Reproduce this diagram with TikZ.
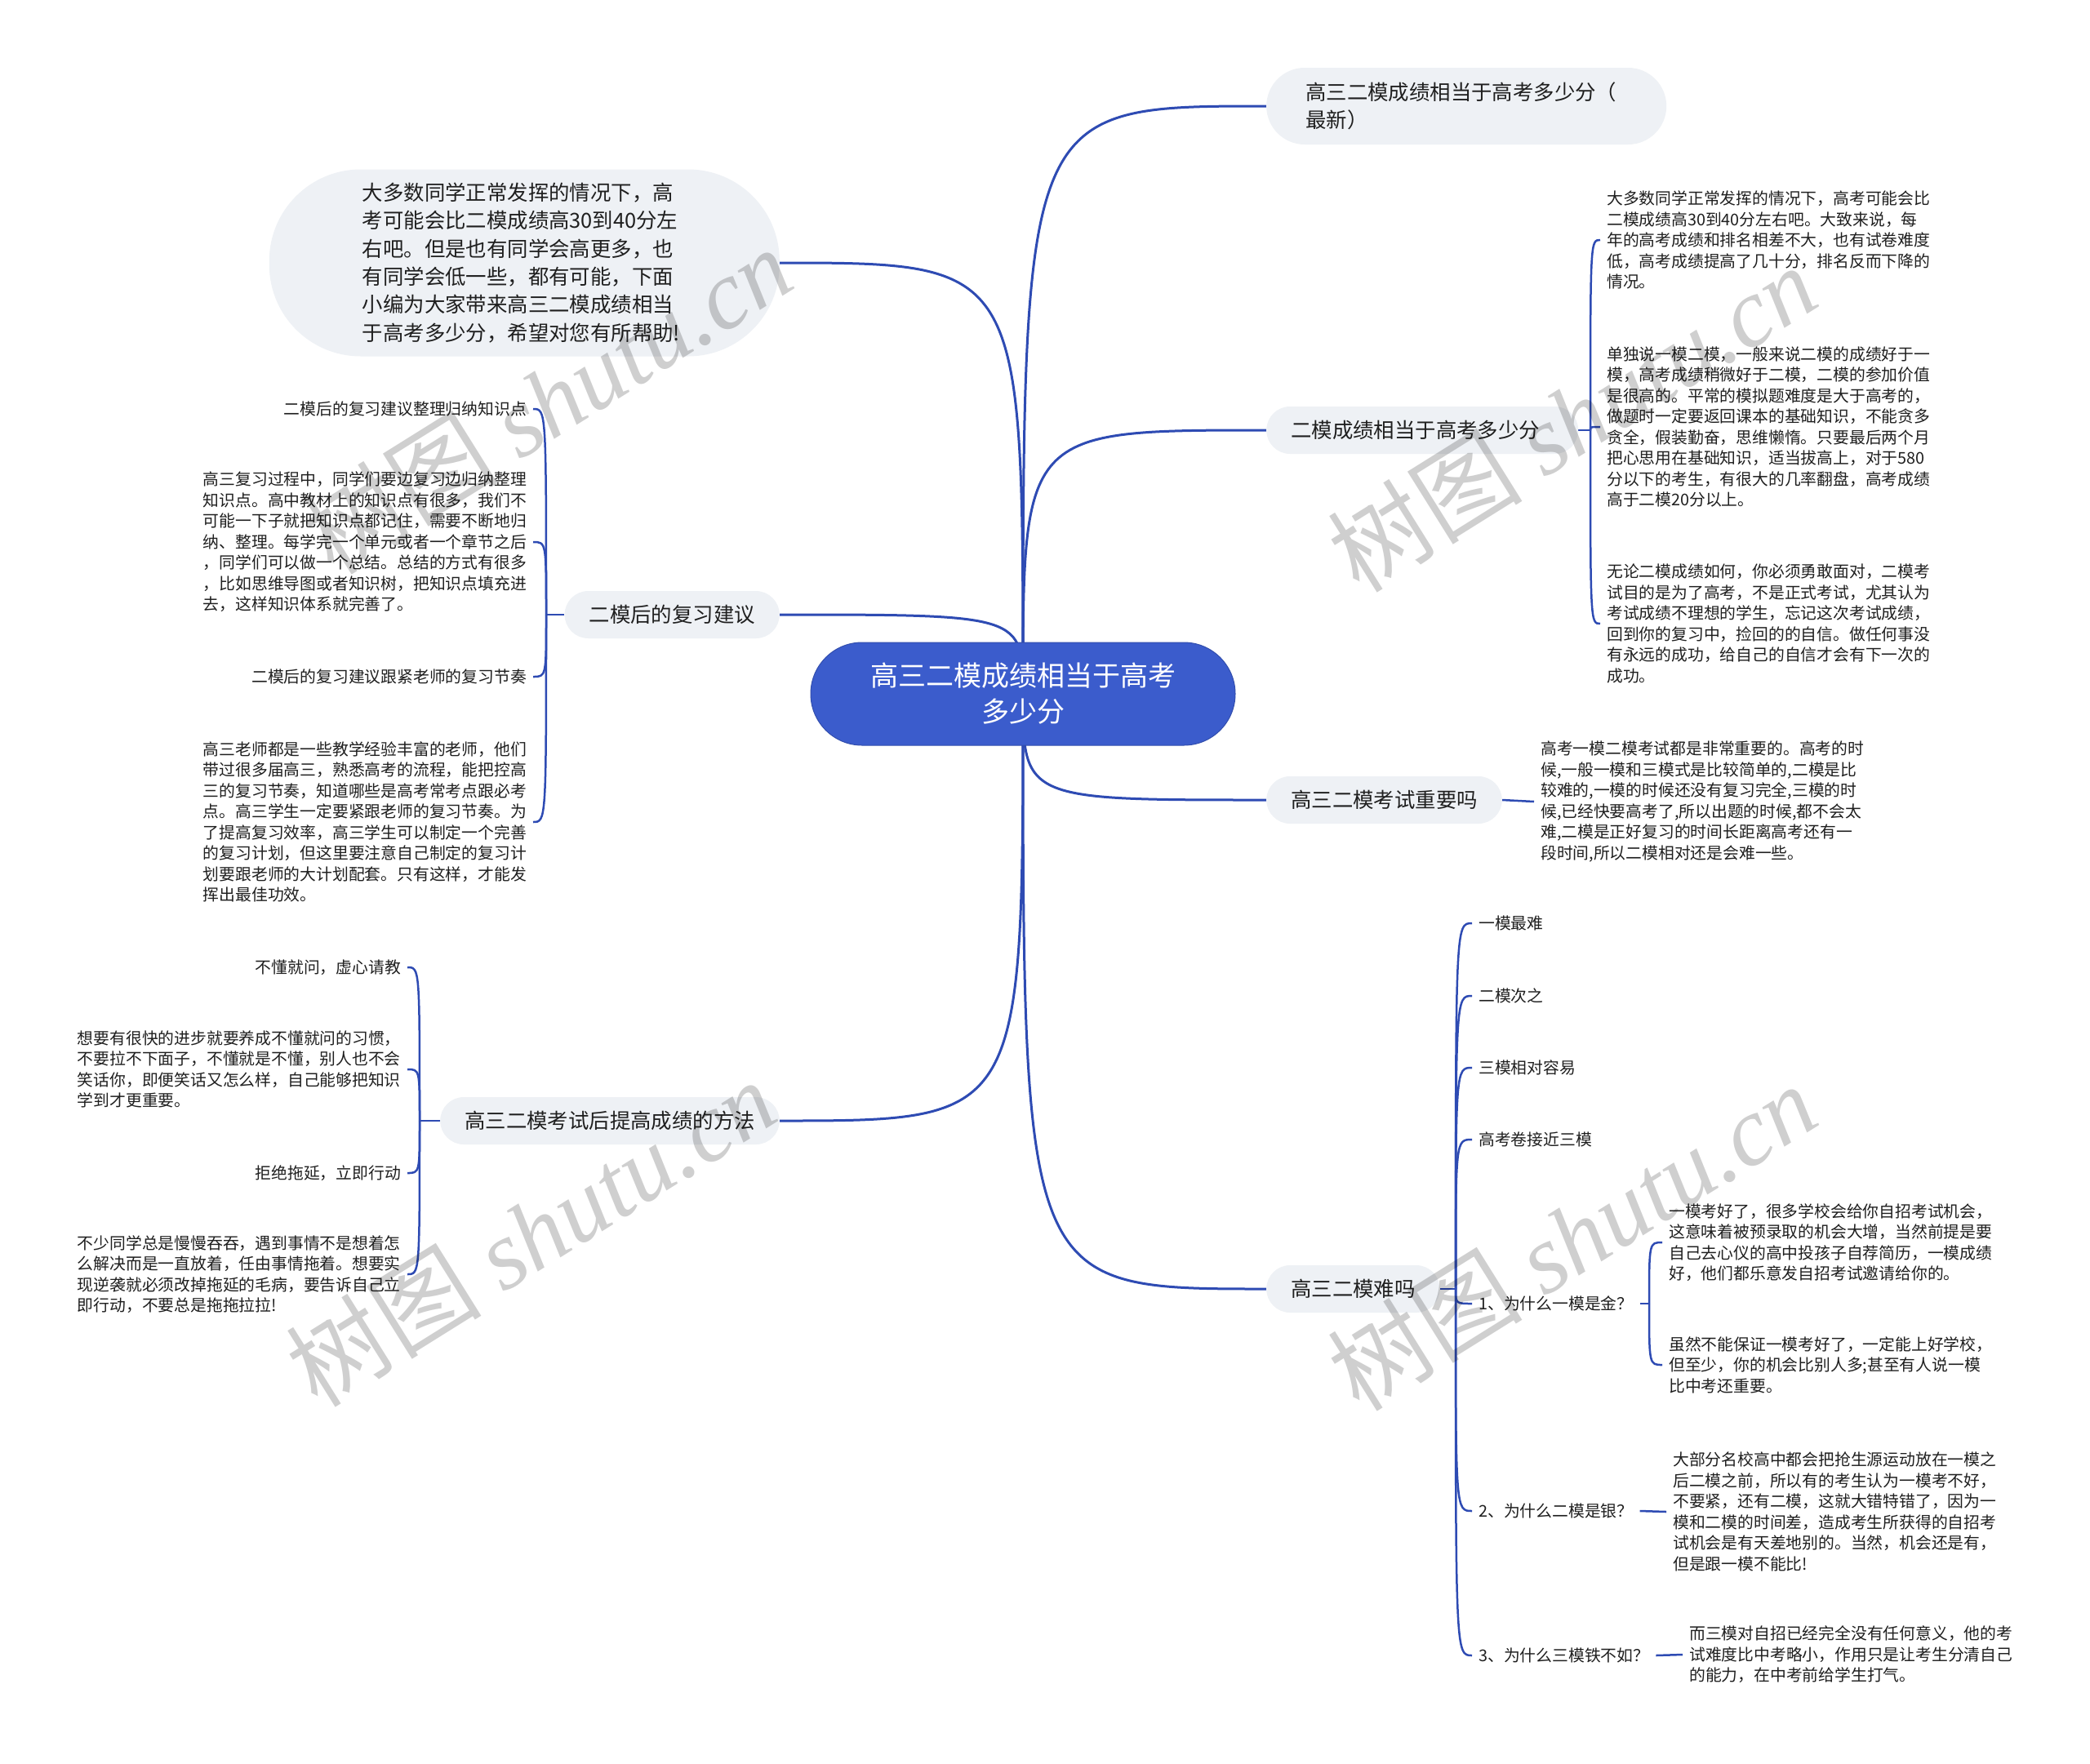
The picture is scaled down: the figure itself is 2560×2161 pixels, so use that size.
\documentclass[tikz,border=0pt]{standalone}
\usepackage{fontspec}
\setmainfont{Noto Sans CJK SC}
\newfontfamily\wmserif{Liberation Serif}
\pgfdeclarelayer{bg}
\pgfdeclarelayer{fg}
\pgfsetlayers{bg,main,fg}
\definecolor{linec}{HTML}{2E4BB3}
\definecolor{rootc}{HTML}{3B5CCC}
\definecolor{nodec}{HTML}{EEF1F5}
\definecolor{txtc}{HTML}{1F1F1F}
\begin{document}
\begin{tikzpicture}[x=1pt,y=-1pt,
  root/.style={fill=rootc, draw=rootc!85!black, line width=1pt, text=white, rounded corners=63pt,
    minimum width=520pt, minimum height=126pt, align=center, inner sep=0pt,
    font=\fontsize{34}{44}\selectfont},
  mainn/.style={fill=nodec, text=txtc, rounded corners=29pt, minimum height=58pt,
    inner xsep=30pt, inner ysep=0pt, font=\fontsize{25.4}{34.3}\selectfont},
  leaf/.style={text=txtc, inner xsep=8pt, inner ysep=0pt, align=left,
    font=\fontsize{19.8}{25.5}\selectfont},
  mline/.style={draw=linec, line width=3pt},
  lline/.style={draw=linec, line width=2.5pt},
  wm/.style={rotate=32, text=black, text opacity=0.19, inner sep=0pt, font=\fontsize{120}{120}\selectfont}
]
\useasboundingbox (0,0) rectangle (2560,2161);

% ---------- root and main branches ----------
\node[root] (root) at (1253,850) {高三二模成绩相当于高考\\多少分};

\node[mainn, anchor=west, text width=394pt, inner xsep=48pt, minimum height=94pt,
  rounded corners=47pt, align=left] (tr) at (1551,130) {高三二模成绩相当于高考多少分（\\最新）};
\node[mainn, anchor=west, text width=322pt, align=left] (er) at (1551,527) {二模成绩相当于高考多少分};
\node[mainn, anchor=west] (zy) at (1551,980) {高三二模考试重要吗};
\node[mainn, anchor=west] (nm) at (1551,1579) {高三二模难吗};

\node[mainn, anchor=east, text width=397pt, inner xsep=114pt, minimum height=229pt,
  rounded corners=112pt, align=left] (bub) at (955,322)
  {大多数同学正常发挥的情况下，高\\考可能会比二模成绩高30到40分左\\右吧。但是也有同学会高更多，也\\有同学会低一些，都有可能，下面\\小编为大家带来高三二模成绩相当\\于高考多少分，希望对您有所帮助!};
\node[mainn, anchor=east] (jy) at (955,753) {二模后的复习建议};
\node[mainn, anchor=east] (ff) at (955,1373) {高三二模考试后提高成绩的方法};

% ---------- right: 二模成绩相当于高考多少分 ----------
\node[leaf, anchor=west] (a1) at (1960,294) {大多数同学正常发挥的情况下，高考可能会比\\二模成绩高30到40分左右吧。大致来说，每\\年的高考成绩和排名相差不大，也有试卷难度\\低，高考成绩提高了几十分，排名反而下降的\\情况。};
\node[leaf, anchor=west] (a2) at (1960,523) {单独说一模二模，一般来说二模的成绩好于一\\模，高考成绩稍微好于二模，二模的参加价值\\是很高的。平常的模拟题难度是大于高考的，\\做题时一定要返回课本的基础知识，不能贪多\\贪全，假装勤奋，思维懒惰。只要最后两个月\\把心思用在基础知识，适当拔高上，对于580\\分以下的考生，有很大的几率翻盘，高考成绩\\高于二模20分以上。};
\node[leaf, anchor=west] (a3) at (1960,764) {无论二模成绩如何，你必须勇敢面对，二模考\\试目的是为了高考，不是正式考试，尤其认为\\考试成绩不理想的学生，忘记这次考试成绩，\\回到你的复习中，捡回的的自信。做任何事没\\有永远的成功，给自己的自信才会有下一次的\\成功。};

% ---------- right: 高三二模考试重要吗 ----------
\node[leaf, anchor=west] (b1) at (1879,982) {高考一模二模考试都是非常重要的。高考的时\\候,一般一模和三模式是比较简单的,二模是比\\较难的,一模的时候还没有复习完全,三模的时\\候,已经快要高考了,所以出题的时候,都不会太\\难,二模是正好复习的时间长距离高考还有一\\段时间,所以二模相对还是会难一些。};

% ---------- right: 高三二模难吗 ----------
\node[leaf, anchor=west] (c1) at (1803,1131) {一模最难};
\node[leaf, anchor=west] (c2) at (1803,1220) {二模次之};
\node[leaf, anchor=west] (c3) at (1803,1308) {三模相对容易};
\node[leaf, anchor=west] (c4) at (1803,1396) {高考卷接近三模};
\node[leaf, anchor=west] (q1) at (1803,1597) {1、为什么一模是金？};
\node[leaf, anchor=west] (q2) at (1803,1851) {2、为什么二模是银？};
\node[leaf, anchor=west] (q3) at (1803,2028) {3、为什么三模铁不如？};
\node[leaf, anchor=west] (d1) at (2036,1522) {一模考好了，很多学校会给你自招考试机会，\\这意味着被预录取的机会大增，当然前提是要\\自己去心仪的高中投孩子自荐简历，一模成绩\\好，他们都乐意发自招考试邀请给你的。};
\node[leaf, anchor=west] (d2) at (2036,1672) {虽然不能保证一模考好了，一定能上好学校，\\但至少，你的机会比别人多;甚至有人说一模\\比中考还重要。};
\node[leaf, anchor=west] (e1) at (2041,1852) {大部分名校高中都会把抢生源运动放在一模之\\后二模之前，所以有的考生认为一模考不好，\\不要紧，还有二模，这就大错特错了，因为一\\模和二模的时间差，造成考生所获得的自招考\\试机会是有天差地别的。当然，机会还是有，\\但是跟一模不能比!};
\node[leaf, anchor=west] (f1) at (2061,2027) {而三模对自招已经完全没有任何意义，他的考\\试难度比中考略小，作用只是让考生分清自己\\的能力，在中考前给学生打气。};

% ---------- left: 二模后的复习建议 ----------
\node[leaf, anchor=east] (g1) at (653,501) {二模后的复习建议整理归纳知识点};
\node[leaf, anchor=east] (g2) at (653,664) {高三复习过程中，同学们要边复习边归纳整理\\知识点。高中教材上的知识点有很多，我们不\\可能一下子就把知识点都记住，需要不断地归\\纳、整理。每学完一个单元或者一个章节之后\\，同学们可以做一个总结。总结的方式有很多\\，比如思维导图或者知识树，把知识点填充进\\去，这样知识体系就完善了。};
\node[leaf, anchor=east] (g3) at (653,829) {二模后的复习建议跟紧老师的复习节奏};
\node[leaf, anchor=east] (g4) at (653,1007) {高三老师都是一些教学经验丰富的老师，他们\\带过很多届高三，熟悉高考的流程，能把控高\\三的复习节奏，知道哪些是高考常考点跟必考\\点。高三学生一定要紧跟老师的复习节奏。为\\了提高复习效率，高三学生可以制定一个完善\\的复习计划，但这里要注意自己制定的复习计\\划要跟老师的大计划配套。只有这样，才能发\\挥出最佳功效。};

% ---------- left: 高三二模考试后提高成绩的方法 ----------
\node[leaf, anchor=east] (h1) at (499,1185) {不懂就问，虚心请教};
\node[leaf, anchor=east] (h2) at (499,1310) {想要有很快的进步就要养成不懂就问的习惯，\\不要拉不下面子，不懂就是不懂，别人也不会\\笑话你，即便笑话又怎么样，自己能够把知识\\学到才更重要。};
\node[leaf, anchor=east] (h3) at (499,1437) {拒绝拖延，立即行动};
\node[leaf, anchor=east] (h4) at (499,1561) {不少同学总是慢慢吞吞，遇到事情不是想着怎\\么解决而是一直放着，任由事情拖着。想要实\\现逆袭就必须改掉拖延的毛病，要告诉自己立\\即行动，不要总是拖拖拉拉!};

% ---------- spine points ----------
\coordinate (s_er) at (1948,527);
\coordinate (s_nm) at (1783,1579);
\coordinate (s_q1) at (2020,1597);
\coordinate (s_jy) at (669,753);
\coordinate (s_ff) at (514,1373);

% ---------- connectors (behind nodes) ----------
\begin{pgfonlayer}{bg}
\fill[white] (0,0) rectangle (2560,2161);
\foreach \n in {tr,er,zy,nm}
  \draw[mline] (root.center) .. controls (root.center |- \n.west) .. (\n.west);
\foreach \n in {bub,jy,ff}
  \draw[mline] (root.center) .. controls (root.center |- \n.east) .. (\n.east);

\draw[lline] (er.east) -- (s_er);
\foreach \c in {a1,a2,a3}
  \draw[lline] (s_er) .. controls (s_er |- \c.west) and (s_er |- \c.west) .. (\c.west);
\draw[lline] (zy.east) -- (b1.west);
\draw[lline] (nm.east) -- (s_nm);
\foreach \c in {c1,c2,c3,c4,q1,q2,q3}
  \draw[lline] (s_nm) .. controls (s_nm |- \c.west) and (s_nm |- \c.west) .. (\c.west);
\draw[lline] (q1.east) -- (s_q1);
\foreach \c in {d1,d2}
  \draw[lline] (s_q1) .. controls (s_q1 |- \c.west) and (s_q1 |- \c.west) .. (\c.west);
\draw[lline] (q2.east) -- (e1.west);
\draw[lline] (q3.east) -- (f1.west);

\draw[lline] (jy.west) -- (s_jy);
\foreach \c in {g1,g2,g3,g4}
  \draw[lline] (s_jy) .. controls (s_jy |- \c.east) and (s_jy |- \c.east) .. (\c.east);
\draw[lline] (ff.west) -- (s_ff);
\foreach \c in {h1,h2,h3,h4}
  \draw[lline] (s_ff) .. controls (s_ff |- \c.east) and (s_ff |- \c.east) .. (\c.east);
\end{pgfonlayer}

% ---------- watermarks ----------
\begin{pgfonlayer}{fg}
\node[wm] (w1) at (670,490) {树图 {\wmserif\itshape shutu.cn}};
\node[wm] (w2) at (1925,512) {树图 {\wmserif\itshape shutu.cn}};
\node[wm] (w3) at (650,1510) {树图 {\wmserif\itshape shutu.cn}};
\node[wm] (w4) at (1925,1515) {树图 {\wmserif\itshape shutu.cn}};
\end{pgfonlayer}
\end{tikzpicture}
\end{document}
